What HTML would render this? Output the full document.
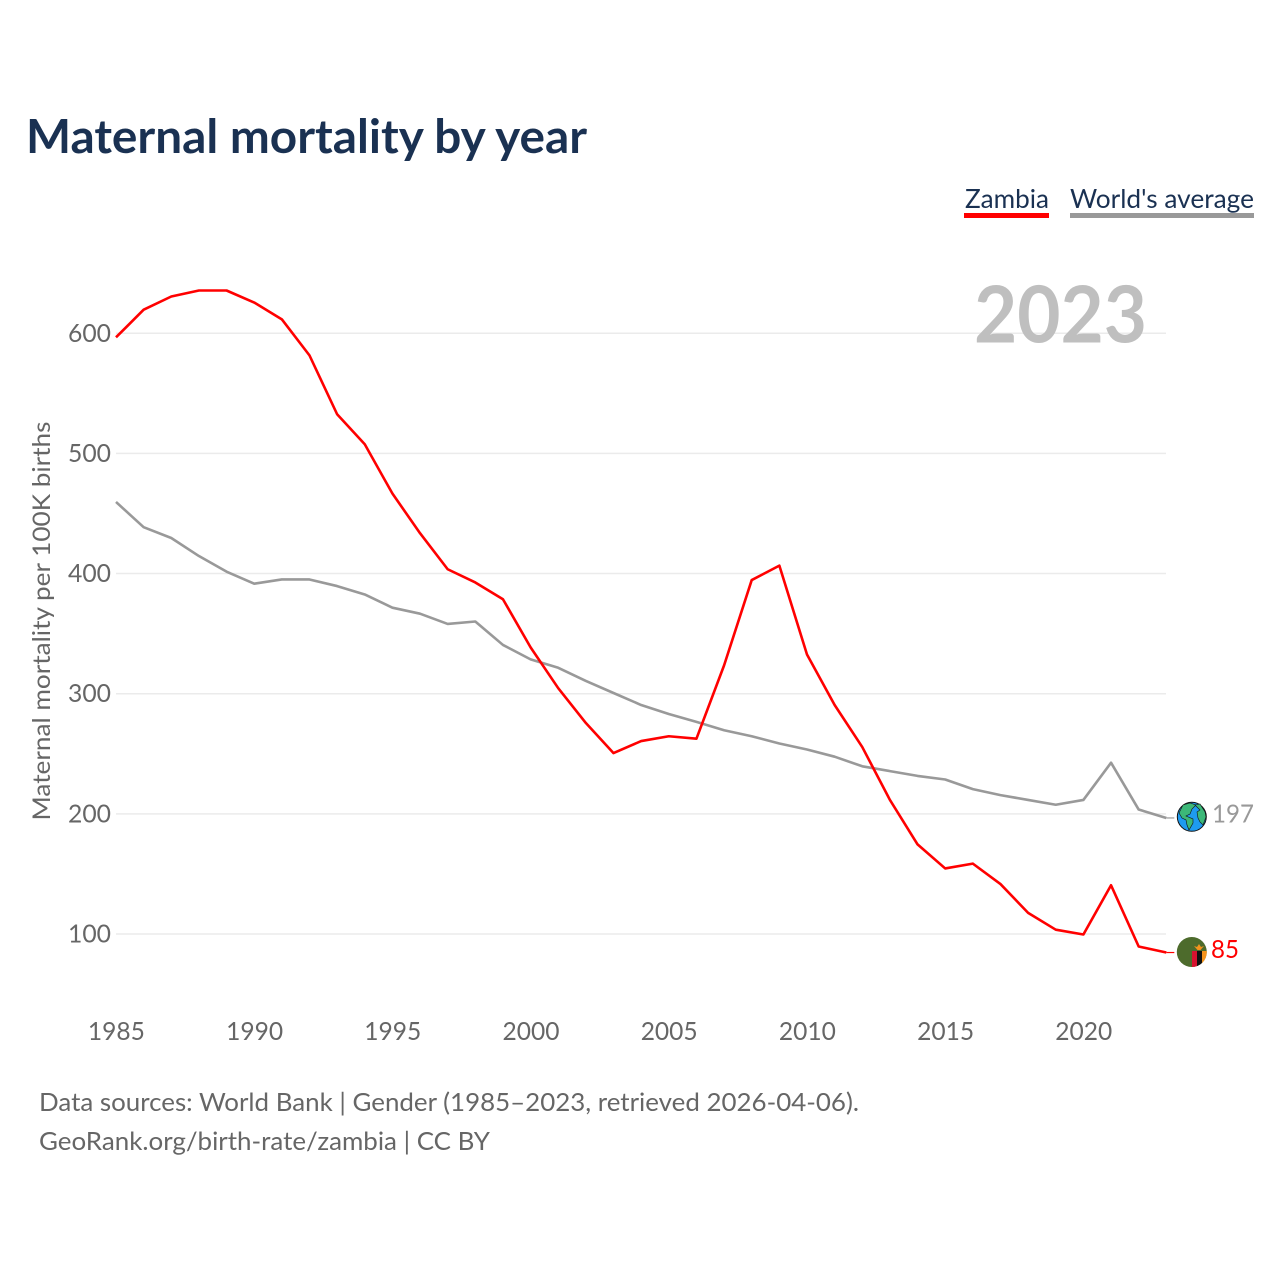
<!DOCTYPE html>
<html lang="en">
<head>
<meta charset="utf-8">
<title>Maternal mortality by year</title>
<style>
html,body{margin:0;padding:0;background:#fff;}
svg{display:block;}
text{font-family:"Lato","Carlito","Liberation Sans",sans-serif;}
</style>
</head>
<body>
<svg id="chart" width="1280" height="1280" viewBox="0 0 1280 1280" xmlns="http://www.w3.org/2000/svg">
  <rect x="0" y="0" width="1280" height="1280" fill="#ffffff"/>
  <text x="26" y="153" font-size="46.5" font-weight="700" fill="#1a3152" textLength="561" lengthAdjust="spacingAndGlyphs">Maternal mortality by year</text>

  <g id="grid"></g>
  <text x="1147" y="342.5" text-anchor="end" font-size="79" font-weight="700" fill="#bfbfbf" textLength="173" lengthAdjust="spacingAndGlyphs">2023</text>
  <g id="y-ticks"></g>
  <g id="x-ticks"></g>
  <text transform="translate(50,820.5) rotate(-90)" font-size="24.5" fill="#666666" textLength="399" lengthAdjust="spacingAndGlyphs">Maternal mortality per 100K births</text>

  <g id="series"></g>

  <g>
    <text x="965" y="208" font-size="26" fill="#1a3152" textLength="84" lengthAdjust="spacingAndGlyphs">Zambia</text>
    <rect x="964" y="213" width="85" height="5" fill="#ff0000"/>
  </g>
  <g>
    <text x="1070" y="208" font-size="26.5" fill="#1a3152" textLength="184" lengthAdjust="spacingAndGlyphs">World's average</text>
    <rect x="1070" y="213" width="184" height="5" fill="#999999"/>
  </g>

  <g>
    <circle cx="1191.8" cy="816.8" r="14.5" fill="#1e9bf0" stroke="#111111" stroke-width="1"/>
    <path d="M1179 813 L1183 805 L1190 803 L1196 805 L1192 809 L1190 814 L1186 816 L1193 819 L1193 823 L1189 830 L1187 825 L1186 820 L1182 818 Z" fill="#3cb878" stroke="#111111" stroke-width="0.6"/>
    <path d="M1195 805 L1200 804 L1205 812 L1206 817 L1203 825 L1200 822 L1198 818 L1197 812 L1200 810 Z" fill="#3cb878" stroke="#111111" stroke-width="0.6"/>
  </g>
  <g>
    <clipPath id="flag-clip"><circle cx="1191.8" cy="952" r="15"/></clipPath>
    <circle cx="1191.8" cy="952" r="15" fill="#4d6b2c"/>
    <g clip-path="url(#flag-clip)">
      <rect x="1192" y="951" width="5" height="17" fill="#d7122f"/>
      <rect x="1197" y="951" width="5" height="17" fill="#111111"/>
      <rect x="1202" y="951" width="5" height="17" fill="#f5941d"/>
      <path d="M1194 946 L1197 947 L1199 944 L1201 947 L1204 946 L1200.5 950 L1197.5 950 Z" fill="#f5941d"/>
    </g>
  </g>

  <text x="1212" y="822.5" font-size="25.5" fill="#999999" textLength="42" lengthAdjust="spacingAndGlyphs">197</text>
  <text x="1211" y="958" font-size="25.5" fill="#ff0000" textLength="28" lengthAdjust="spacingAndGlyphs">85</text>

  <text x="39" y="1111" font-size="25.5" fill="#666666" textLength="820" lengthAdjust="spacingAndGlyphs">Data sources: World Bank | Gender (1985–2023, retrieved 2026-04-06).</text>
  <a><text x="39" y="1150" font-size="25.5" fill="#666666" textLength="451" lengthAdjust="spacingAndGlyphs">GeoRank.org/birth-rate/zambia | CC BY</text></a>
</svg>
<script>
var years = [1985,1986,1987,1988,1989,1990,1991,1992,1993,1994,1995,1996,1997,1998,1999,2000,2001,2002,2003,2004,2005,2006,2007,2008,2009,2010,2011,2012,2013,2014,2015,2016,2017,2018,2019,2020,2021,2022,2023];
var zambiaValues = [597,620,631,636,636,626,612,582,533,508,467,434,404,393,379,339,305,276,251,261,265,263,324,395,407,333,291,256,212,175,155,159,142,118,104,100,141,90,85];
var worldValues = [460,439,430,415,402,392,395.5,395.5,390,383,372,367,358.5,360.5,341,329,322,311,301,291,283.5,277,270,265,259,254,248,240,236,232,229,221,216,212,208,212,243,204,197];
var yTickValues = [100,200,300,400,500,600];
var xTickValues = [1985,1990,1995,2000,2005,2010,2015,2020];

var NS = 'http://www.w3.org/2000/svg';
function xScale(year){ return 116 + (year - 1985) * 27.64; }
function yScale(value){ return 934 - (value - 100) * 1.2015; }
function make(tag, attrs, parent){
  var el = document.createElementNS(NS, tag);
  for (var k in attrs) { el.setAttribute(k, attrs[k]); }
  parent.appendChild(el);
  return el;
}

var gridGroup = document.getElementById('grid');
var yTickGroup = document.getElementById('y-ticks');
yTickValues.forEach(function(v){
  var line = make('line', {x1:116, x2:1166, y1:yScale(v), y2:yScale(v), stroke:'#ebebeb', 'stroke-width':1.5}, gridGroup);
  
  
  var label = make('text', {x:111, y:yScale(v)+8.5, 'text-anchor':'end', 'font-size':25, fill:'#666666', textLength:43, lengthAdjust:'spacingAndGlyphs'}, yTickGroup);
  label.textContent = v;
  
  
});

var xTickGroup = document.getElementById('x-ticks');
xTickValues.forEach(function(y){
  var label = make('text', {x:xScale(y)+0.4, y:1040, 'text-anchor':'middle', 'font-size':25, fill:'#666666', textLength:57, lengthAdjust:'spacingAndGlyphs'}, xTickGroup);
  label.textContent = y;
  
  
});

function pointsFor(values){
  return values.map(function(v, i){ return xScale(years[i]).toFixed(2) + ',' + (yScale(v) + 0.5).toFixed(2); }).join(' ');
}
var seriesGroup = document.getElementById('series');

var worldLine = make('polyline', {points:pointsFor(worldValues), fill:'none', stroke:'#999999', 'stroke-width':2.6, 'stroke-linejoin':'round'}, seriesGroup);


var worldLast = worldValues[worldValues.length - 1];
var worldStub = make('line', {x1:xScale(2023), x2:xScale(2023)+8, y1:yScale(worldLast)+0.5, y2:yScale(worldLast)+0.5, stroke:'#999999', 'stroke-width':1.2}, seriesGroup);



var zambiaLine = make('polyline', {points:pointsFor(zambiaValues), fill:'none', stroke:'#ff0000', 'stroke-width':2.6, 'stroke-linejoin':'round'}, seriesGroup);


var zambiaLast = zambiaValues[zambiaValues.length - 1];
var zambiaStub = make('line', {x1:xScale(2023), x2:xScale(2023)+8, y1:yScale(zambiaLast)+0.5, y2:yScale(zambiaLast)+0.5, stroke:'#ff0000', 'stroke-width':1.2}, seriesGroup);


</script>
</body>
</html>
